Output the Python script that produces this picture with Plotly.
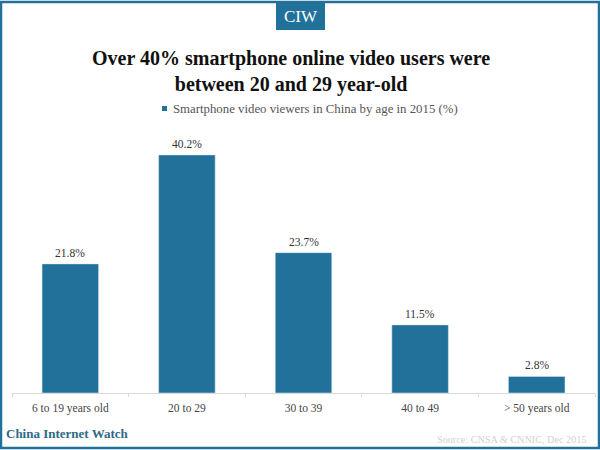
import plotly.graph_objects as go

ages = ["6 to 19 years old", "20 to 29", "30 to 39", "40 to 49", "> 50 years old"]
share = [21.8, 40.2, 23.7, 11.5, 2.8]
share_labels = ["21.8%", "40.2%", "23.7%", "11.5%", "2.8%"]
series_name = "Smartphone video viewers in China by age in 2015 (%)"

BLUE = "#21719b"
W, H = 600, 450


def px(x):
    return x / W


def py(y):
    return 1 - y / H


fig = go.Figure()
fig.add_trace(go.Bar(
    x=ages, y=share, marker=dict(color=BLUE), width=0.485, showlegend=False,
))

shapes = [
    # frame
    dict(type="rect", xref="paper", yref="paper", x0=px(1), x1=px(599), y0=py(2), y1=py(448),
         line=dict(color=BLUE, width=2.5), fillcolor="rgba(0,0,0,0)"),
    # logo box
    dict(type="rect", xref="paper", yref="paper", x0=px(276), x1=px(325), y0=py(2), y1=py(30),
         line=dict(width=0), fillcolor=BLUE),
    # legend key
    dict(type="rect", xref="paper", yref="paper", x0=px(162), x1=px(167), y0=py(106), y1=py(111),
         line=dict(width=0), fillcolor=BLUE),
]

annotations = [
    dict(text="CIW", x=px(300.5), y=py(16),
         font=dict(size=17, color="white")),
    dict(text="<b>Over 40% smartphone online video users were<br>between 20 and 29 year-old</b>",
         x=px(291), y=py(71), align="center",
         font=dict(size=20, color="#111111")),
    dict(text=series_name, x=px(171), y=py(109), xanchor="left",
         font=dict(size=12.8, color="#555555")),
    dict(text="<b>China Internet Watch</b>", x=px(4), y=py(433), xanchor="left",
         font=dict(size=13, color="#2d6a85")),
    dict(text="Source: CNSA & CNNIC, Dec 2015", x=px(588), y=py(439), xanchor="right",
         font=dict(size=10.2, color="#d2d2d2")),
]
for a in annotations:
    a.update(xref="paper", yref="paper", showarrow=False)
    a.setdefault("xanchor", "center")
    a.setdefault("yanchor", "middle")

# bar labels sit a bit higher than textposition outside allows
for age, val, lab in zip(ages, share, share_labels):
    annotations.append(dict(text=lab, x=age, y=val, xref="x", yref="y", yanchor="bottom",
                            yshift=3, showarrow=False, font=dict(size=11.5, color="#333333")))

fig.update_layout(
    width=W, height=H, autosize=False,
    margin=dict(l=0, r=0, t=0, b=0),
    paper_bgcolor="white", plot_bgcolor="white",
    font=dict(family="Liberation Serif", size=12, color="#444444"),
    shapes=shapes, annotations=annotations,
    xaxis=dict(domain=[px(12), px(595)], showgrid=False, linecolor="#d9d9d9", linewidth=1,
               ticks="outside", tickcolor="#d9d9d9", ticklen=3, tickson="boundaries",
               ticklabelstandoff=4, tickfont=dict(size=11.5, color="#444444"), fixedrange=True),
    yaxis=dict(domain=[py(393), py(126.5)], range=[0, 45], visible=False, fixedrange=True),
)

# page default body margin pushes the figure off the window
fig.write_html("out.html", config=dict(displayModeBar=False),
               post_script="document.body.style.margin='0';")
